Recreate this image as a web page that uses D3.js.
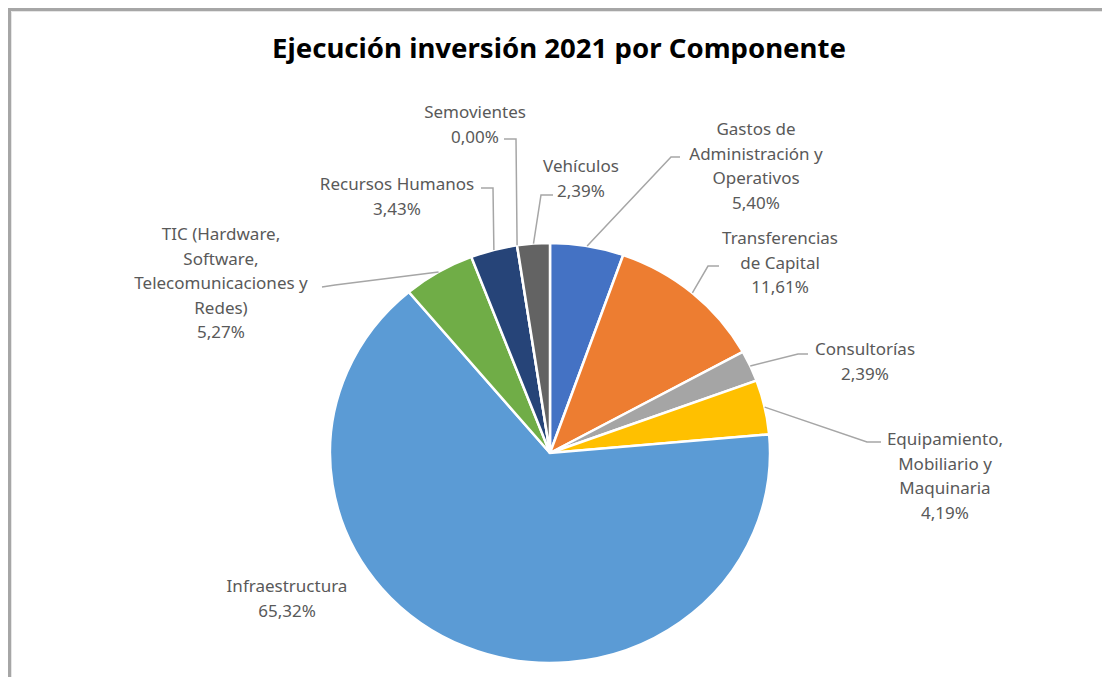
<!doctype html>
<html>
<head>
<meta charset="utf-8">
<style>
body { margin: 0; background: #fff; }
#chart text { font-family: "Noto Sans", "Open Sans", sans-serif; }
.title { font-weight: bold; fill: #000; }
.lbl { fill: #595959; font-size: 17px; }
.leader { fill: none; stroke: #a6a6a6; stroke-width: 1.5; }
</style>
</head>
<body>
<div id="chart"></div>
<script src="https://cdn.jsdelivr.net/npm/d3@7/dist/d3.min.js"></script>
<script>
// data, clockwise from 12 o'clock
var categories = [
    'Gastos de Administración y Operativos',
    'Transferencias de Capital',
    'Consultorías',
    'Equipamiento, Mobiliario y Maquinaria',
    'Infraestructura',
    'TIC (Hardware, Software, Telecomunicaciones y Redes)',
    'Recursos Humanos',
    'Semovientes',
    'Vehículos'
];
var shares = [5.40, 11.61, 2.39, 4.19, 65.32, 5.27, 3.43, 0.00, 2.39];
var colors = ['#4472c4', '#ed7d31', '#a5a5a5', '#ffc000', '#5b9bd5', '#70ad47', '#264478', '#9e480e', '#636363'];
var labelLines = [
    ['Gastos de', 'Administración y', 'Operativos'],
    ['Transferencias', 'de Capital'],
    ['Consultorías'],
    ['Equipamiento,', 'Mobiliario y', 'Maquinaria'],
    ['Infraestructura'],
    ['TIC (Hardware,', 'Software,', 'Telecomunicaciones y', 'Redes)'],
    ['Recursos Humanos'],
    ['Semovientes'],
    ['Vehículos']
];
</script>
<script>
var width = 1102, height = 677;
var cx = 550, cy = 453, rx = 220, ry = 210;
var lineH = 24.5;

// where each label sits (centre of first line) and the bend of its leader
var labelSpots = [
    {x: 756, y: 128, leader: [[671, 157], [680, 157]]},
    {x: 780, y: 237, leader: [[708, 266], [719, 266]]},
    {x: 865, y: 348, leader: [[798, 354], [808, 354]]},
    {x: 945, y: 438, leader: [[867, 442], [881, 442]]},
    {x: 287, y: 585, leader: null},
    {x: 221, y: 233, leader: [[335, 285], [322, 287]]},
    {x: 397, y: 183, leader: [[493, 188], [481, 188]]},
    {x: 475, y: 111, leader: [[516, 139], [504, 139]]},
    {x: 581, y: 165, leader: [[541, 195], [553, 195]]}
];

var fmt = function (v) { return d3.format('.2f')(v).replace('.', ',') + '%'; };

var svg = d3.select('#chart').append('svg')
    .attr('width', width)
    .attr('height', height);

svg.append('rect').attr('width', width).attr('height', height).attr('fill', '#fff');

// chart frame (only top and left edges fall inside the picture)
svg.append('path')
    .attr('d', 'M9.5,' + (height + 5) + 'V9.5H' + (width + 5))
    .attr('fill', 'none')
    .attr('stroke', '#a6a6a6')
    .attr('stroke-width', 3);
svg.append('path')
    .attr('d', 'M11.5,' + (height + 5) + 'V11.5H' + (width + 5))
    .attr('fill', 'none')
    .attr('stroke', '#e6e6e6')
    .attr('stroke-width', 1);

var title = svg.append('text')
    .attr('class', 'title')
    .attr('x', 559)
    .attr('y', 58)
    .attr('text-anchor', 'middle')
    .style('font-size', '28px')
    .text('Ejecución inversión 2021 por Componente');
var tw = title.node().getComputedTextLength();
title.style('font-size', (28 * 574 / tw) + 'px');

var pie = d3.pie().sort(null).value(function (d) { return d; });
var arcs = pie(shares);
var arc = d3.arc().innerRadius(0).outerRadius(rx);

var g = svg.append('g')
    .attr('transform', 'translate(' + cx + ',' + cy + ') scale(1,' + (ry / rx) + ')');

g.selectAll('path.slice')
    .data(arcs)
    .enter().append('path')
    .attr('class', 'slice')
    .attr('d', arc)
    .attr('fill', function (d, i) { return colors[i]; })
    .attr('stroke', '#fff')
    .attr('stroke-width', 2.5)
    .attr('vector-effect', 'non-scaling-stroke');

function edgePoint(d) {
    var a = (d.startAngle + d.endAngle) / 2;
    return [cx + rx * Math.sin(a), cy - ry * Math.cos(a)];
}

// leader lines
svg.selectAll('path.leader')
    .data(arcs.filter(function (d, i) { return labelSpots[i].leader; }))
    .enter().append('path')
    .attr('class', 'leader')
    .attr('d', function (d) {
        var pts = [edgePoint(d)].concat(labelSpots[d.index].leader);
        return d3.line()(pts);
    });

// labels
var labels = svg.selectAll('text.lbl')
    .data(arcs)
    .enter().append('text')
    .attr('class', 'lbl')
    .attr('text-anchor', 'middle')
    .attr('dominant-baseline', 'central');

labels.each(function (d, i) {
    var t = d3.select(this);
    var lines = labelLines[i].concat([fmt(shares[i])]);
    lines.forEach(function (s, k) {
        t.append('tspan')
            .attr('x', labelSpots[i].x)
            .attr('y', labelSpots[i].y + k * lineH)
            .text(s);
    });
});
</script>
</body>
</html>
